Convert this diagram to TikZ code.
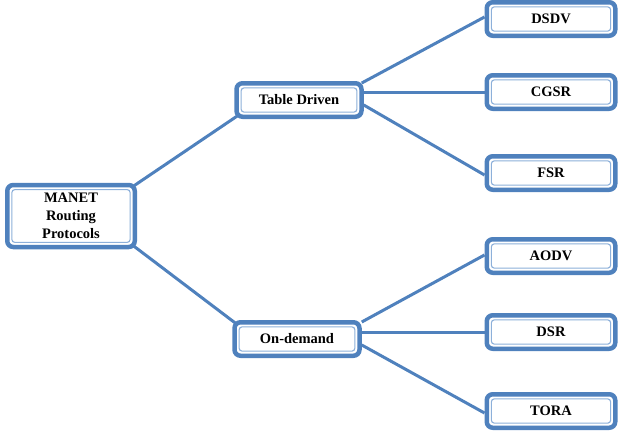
\documentclass[tikz,border=0pt]{standalone}
\usepackage{fontspec}
\setmainfont{Liberation Serif}
\pgfdeclarelayer{background}
\pgfsetlayers{background,main}
\definecolor{boxblue}{HTML}{4F81BD}
\definecolor{innerblue}{HTML}{8DB0DA}
\tikzset{
  box/.style={draw=boxblue, line width=4.5pt, fill=white, rounded corners=6pt,
    font=\bfseries\fontsize{14.5}{18}\selectfont, align=center, inner sep=0pt,
    path picture={\draw[innerblue, line width=1.1pt, rounded corners=3pt]
      ([shift={(4.6pt,-4.6pt)}]path picture bounding box.north west) rectangle
      ([shift={(-4.6pt,4.6pt)}]path picture bounding box.south east);}},
  leaf/.style={box, minimum width=128.5pt, minimum height=33.5pt},
  mid/.style={box, minimum width=125pt, minimum height=33.5pt},
  conn/.style={draw=boxblue, line width=3pt}
}
\begin{document}
\begin{tikzpicture}[x=1pt, y=-1pt]
\useasboundingbox (0,0) rectangle (625,442);
\node[box, minimum width=127.5pt, minimum height=62pt] (M) at (71,216) {MANET\\Routing\\Protocols};
\node[mid] (TD) at (299,100) {Table Driven};
\node[mid] (OD) at (297,339) {On-demand};
\node[leaf] (DSDV) at (551,19) {DSDV};
\node[leaf] (CGSR) at (551,92) {CGSR};
\node[leaf] (FSR) at (551,173) {FSR};
\node[leaf] (AODV) at (551,256) {AODV};
\node[leaf] (DSR) at (551,332) {DSR};
\node[leaf] (TORA) at (551,411) {TORA};
\begin{pgfonlayer}{background}
\draw[conn] ([shift={(-3pt,-3pt)}]M.north east) -- ([shift={(3pt,3pt)}]TD.south west);
\draw[conn] ([shift={(-3pt,3pt)}]M.south east) -- ([shift={(3pt,-3pt)}]OD.north west);
\draw[conn] ([shift={(-2pt,-2pt)}]TD.north east) -- ([yshift=2pt]DSDV.west);
\draw[conn] (TD.east |- CGSR.west) -- (CGSR.west);
\draw[conn] ([yshift=-5pt]TD.east) -- ([yshift=-2pt]FSR.west);
\draw[conn] ([yshift=17pt]OD.east) -- ([yshift=1pt]AODV.west);
\draw[conn] (OD.east |- DSR.west) -- (DSR.west);
\draw[conn] ([yshift=-6pt]OD.east) -- ([yshift=-2pt]TORA.west);
\end{pgfonlayer}
\end{tikzpicture}
\end{document}
